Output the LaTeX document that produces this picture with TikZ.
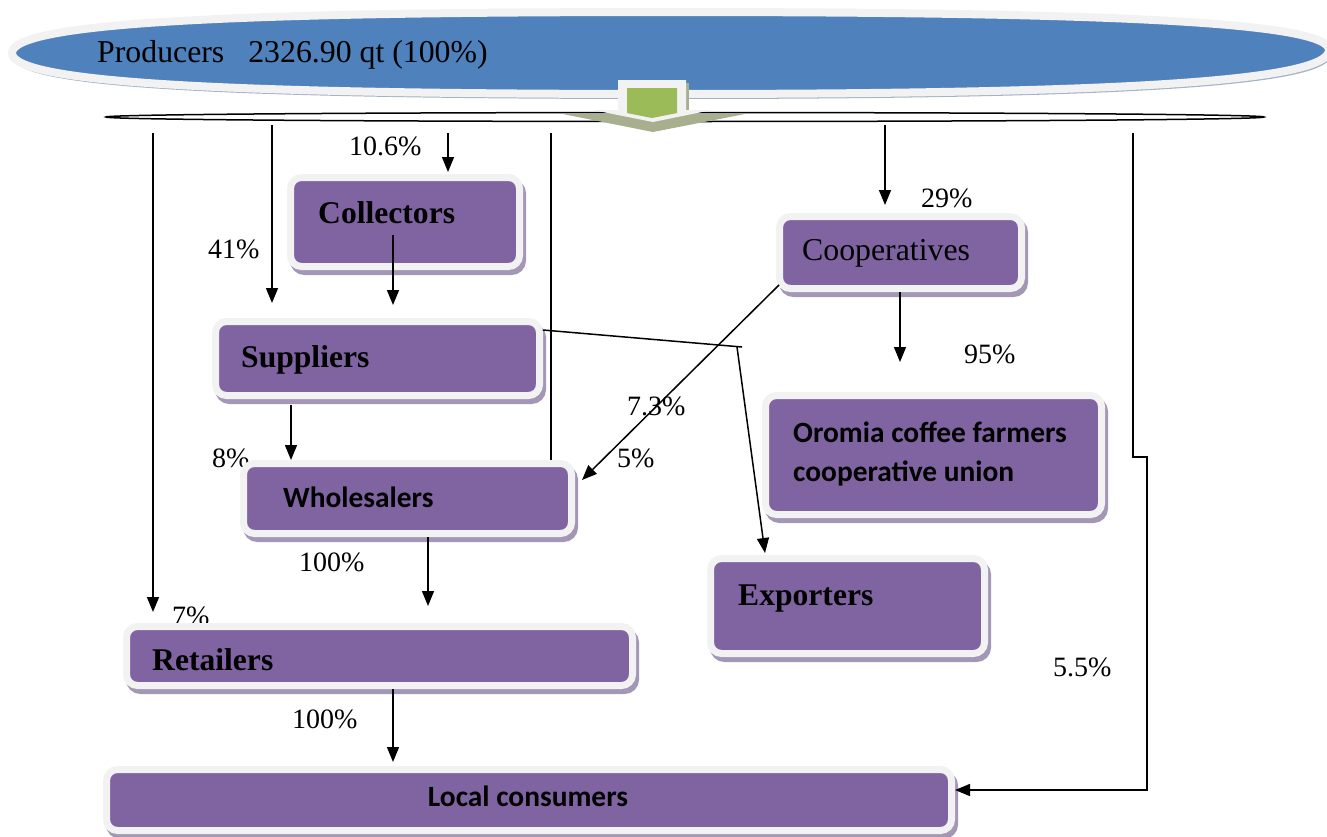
\documentclass[tikz,border=0pt]{standalone}
\usepackage{fontspec}
\setmainfont{Liberation Serif}
\newfontfamily\calfont{Carlito}
\usetikzlibrary{shapes.geometric,arrows.meta,shadows}
\definecolor{pblue}{HTML}{4F81BD}
\definecolor{ring}{HTML}{F2F2F2}
\definecolor{esh}{HTML}{A3B2C8}
\definecolor{purp}{HTML}{8064A2}
\definecolor{boxsh}{HTML}{A497B5}
\definecolor{pgreen}{HTML}{9BBB59}
\definecolor{gsh}{HTML}{A7AF8E}
\begin{document}
\begin{tikzpicture}[x=1pt,y=-1pt,
  pbox/.style={rectangle, rounded corners=11pt, fill=purp, draw=ring, line width=7pt, inner sep=0pt,
    drop shadow={shadow xshift=3pt, shadow yshift=-5pt, fill=boxsh, draw=boxsh, opacity=1}},
  conn/.style={line width=1.5pt},
  arr/.style={conn, -{Triangle[length=15pt,width=12pt]}},
  pct/.style={font=\fontsize{28}{32}\selectfont, inner sep=0pt, anchor=base west},
  tname/.style={font=\fontsize{31.6}{36}\selectfont\bfseries, inner sep=0pt, anchor=base west},
  treg/.style={font=\fontsize{31.8}{36}\selectfont, inner sep=0pt, anchor=base west},
  tcal/.style={font=\fontsize{29.4}{34}\selectfont\calfont\bfseries, inner sep=0pt, anchor=base west},
  prodshape/.style={insert path={(12,53) .. controls (12,22) and (242,12) .. (670,12)
     .. controls (1098,12) and (1329,21.5) .. (1329,50)
     .. controls (1329,83) and (1098,94) .. (670,94)
     .. controls (242,94) and (12,84) .. (12,53) -- cycle}}
]
\useasboundingbox (0,0) rectangle (1327,836);

% producers
\fill[esh, shift={(2,5)}, prodshape];
\path[fill=pblue, draw=ring, line width=8pt, prodshape];
\node[treg] (tprod) at (97,62) {Producers\hspace{24pt}2326.90 qt (100\%)};

% band
\node[ellipse, draw, line width=1.5pt, fill=white, minimum width=1158pt, minimum height=9pt, inner sep=0pt] (band) at (685,117) {};

% connector start points
\coordinate (s1) at (153,133);
\coordinate (s2) at (272,125);
\coordinate (s3) at (448,133);
\coordinate (s4) at (551,133);
\coordinate (s5) at (885,125);
\coordinate (s6) at (1133,133);
\coordinate (k6) at (1147,457);

% labels (under boxes)
\node[pct] (l106) at (349,155) {10.6\%};
\node[pct] (l41) at (208,258) {41\%};
\node[pct] (l29) at (921,207) {29\%};
\node[pct] (l7) at (172,625) {7\%};
\node[pct] (l8) at (212,467) {8\%};
\node[pct] (l73) at (627,415) {7.3\%};
\node[pct] (l5) at (617,467) {5\%};
\node[pct] (l95) at (964,363) {95\%};
\node[pct] (l100a) at (299,571) {100\%};
\node[pct] (l100b) at (292,728) {100\%};
\node[pct] (l55) at (1053,676) {5.5\%};

% boxes
\node[pbox, minimum width=229pt, minimum height=89pt] (coll) at (405,222) {};
\node[pbox, minimum width=242pt, minimum height=72pt] (coop) at (900.5,252.5) {};
\node[pbox, minimum width=324pt, minimum height=74pt] (supp) at (377.5,358.5) {};
\node[pbox, minimum width=328pt, minimum height=70pt] (whol) at (407.5,498.5) {};
\node[pbox, minimum width=336pt, minimum height=119pt] (orom) at (933.5,455) {};
\node[pbox, minimum width=274pt, minimum height=95pt] (expo) at (847.5,606) {};
\node[pbox, minimum width=506pt, minimum height=59pt] (reta) at (379.5,656) {};
\node[pbox, minimum width=845pt, minimum height=61pt] (loca) at (529,800) {};

% box texts
\node[tname] (tcoll) at (318,223) {Collectors};
\node[treg] (tcoop) at (802,260) {Cooperatives};
\node[tname] (tsupp) at (241,367) {Suppliers};
\node[tcal] (torom1) at (793,442) {Oromia coffee farmers};
\node[tcal] (torom2) at (793,481) {cooperative union};
\node[tcal] (twhol) at (283,507) {Wholesalers};
\node[tname] (texpo) at (738,605) {Exporters};
\node[tname] (treta) at (152,670) {Retailers};
\node[tcal, anchor=base] (tloca) at (528,806) {Local consumers};

% helper coordinates
\coordinate (c7) at (393,235);
\coordinate (x8) at (291,0);
\coordinate (k9a) at (742,347);
\coordinate (k9b) at (737,347);
\coordinate (e11) at (900,362);
\coordinate (x12) at (428,0);
\coordinate (x13) at (393,0);

% connectors
\draw[arr, shorten >=11pt] (s1) -- (s1 |- reta.north);
\draw[arr, shorten >=15pt] (s2) -- (s2 |- supp.north);
\draw[arr, shorten >=2pt] (s3) -- (s3 |- coll.north);
\draw[conn] (s4) -- (s4 |- whol.north);
\draw[arr, shorten >=8pt] (s5) -- (s5 |- coop.north);
\draw[arr] (s6) |- (k6) |- ([yshift=10pt]loca.east);
\draw[arr, shorten >=13pt] (c7) -- (c7 |- supp.north);
\draw[arr, shorten <=6pt] (supp.south -| x8) -- (whol.north -| x8);
\draw[conn] ([yshift=28.5pt]supp.east) -- (k9a);
\draw[arr] (k9b) -- ([xshift=-82.5pt,yshift=2pt]expo.north);
\draw[arr] ([xshift=3pt,yshift=7pt]coop.south west) -- ([xshift=7pt,yshift=18.5pt]whol.east);
\draw[arr] (coop.south -| e11) -- (e11);
\draw[arr, shorten >=17pt] (whol.south -| x12) -- (reta.north -| x12);
\draw[arr, shorten >=4pt] (reta.south -| x13) -- (loca.north -| x13);

% green down arrow
\fill[gsh] (563,114) -- (745,114) -- (653,132) -- cycle;
\fill[gsh] (621,83) rectangle (689,112);
\fill[ring] (618,80) -- (686,80) -- (686,110) -- (712,110) -- (653,122) -- (593,110) -- (618,110) -- cycle;
\fill[pgreen] (627,88) -- (677,88) -- (677,113) -- (652,118) -- (627,113) -- cycle;
\end{tikzpicture}
\end{document}
